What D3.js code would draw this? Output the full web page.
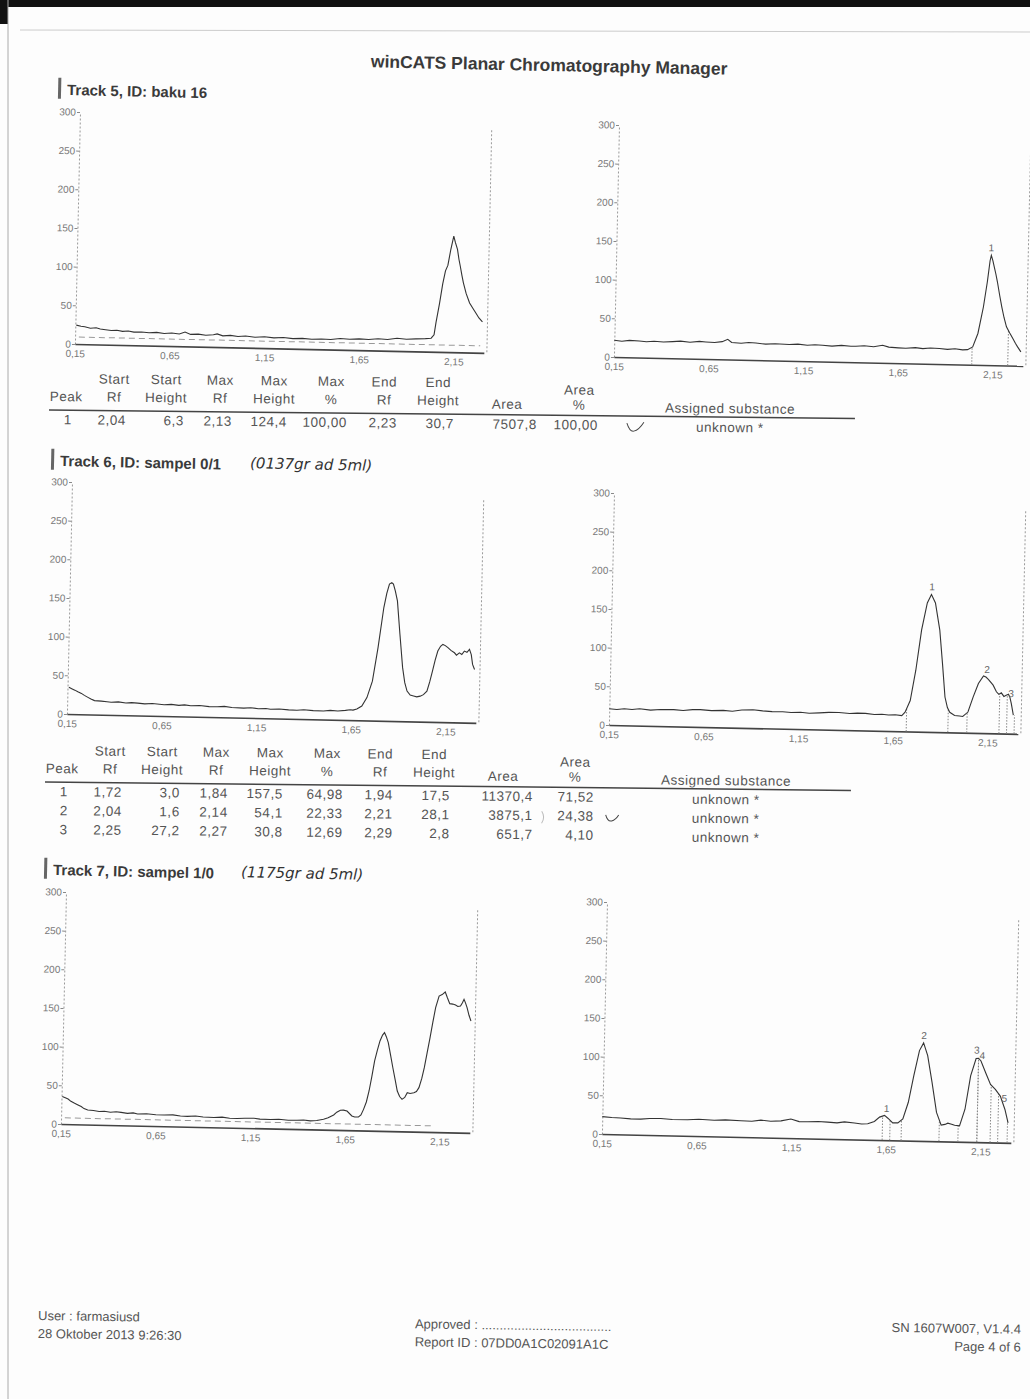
<!DOCTYPE html>
<html>
<head>
<meta charset="utf-8">
<script src="https://cdn.jsdelivr.net/npm/d3@7"></script>
<style>
  body { margin: 0; background: #fff; }
  svg { display: block; font-family: 'Liberation Sans', Arial, sans-serif; }
</style>
</head>
<body>
<svg width="1030" height="1399"></svg>
<script>
// ---- data: [Rf, AU] ----
const track5Raw = [[0.155,24.4],[0.18,23],[0.2,22.5],[0.23,20.8],[0.26,21.5],[0.282,20],[0.31,19.2],[0.34,18.5],[0.37,18.9],[0.4,17.6],[0.43,18.2],[0.46,17],[0.5,17.4],[0.54,16.6],[0.58,17.2],[0.62,16],[0.66,16.8],[0.7,15.9],[0.73,18.5],[0.76,15.6],[0.8,16.2],[0.84,15],[0.88,15.8],[0.9,17],[0.93,14.6],[0.97,15.4],[1.01,14.2],[1.05,15],[1.1,13.8],[1.15,14.6],[1.2,13.5],[1.25,14.2],[1.3,13],[1.35,13.6],[1.4,12.8],[1.45,13.4],[1.5,13],[1.55,14.5],[1.6,13.8],[1.65,14.6],[1.7,14],[1.75,15.2],[1.8,14.5],[1.85,16.5],[1.9,15.5],[1.95,16.2],[2.0,16.8],[2.03,17.5],[2.045,22],[2.054,38],[2.07,62],[2.085,88],[2.098,105],[2.11,112],[2.124,133],[2.138,150],[2.147,142],[2.159,133],[2.168,120],[2.176,111],[2.185,100],[2.194,90],[2.21,76],[2.229,64],[2.245,58],[2.264,51],[2.28,45],[2.299,40]];
const track5Int = [[0.15,21.6],[0.19,20.5],[0.23,21.8],[0.282,21.4],[0.32,20.6],[0.36,21.5],[0.41,20.8],[0.458,21.5],[0.5,22.3],[0.55,21.2],[0.6,22.5],[0.634,22],[0.68,21.5],[0.72,22.8],[0.749,26],[0.77,22],[0.82,21.3],[0.86,22.4],[0.898,22],[0.95,20.8],[1.0,21.6],[1.074,21],[1.12,21.8],[1.17,20.5],[1.21,21.5],[1.25,21],[1.3,20.2],[1.35,21.4],[1.4,20.5],[1.426,20.7],[1.47,21.5],[1.52,20.6],[1.567,22.7],[1.6,20.5],[1.65,19.8],[1.69,19.4],[1.74,20.6],[1.78,19.5],[1.82,20.5],[1.867,20],[1.91,19.2],[1.95,20.3],[1.99,19],[2.016,19.4],[2.043,23],[2.069,40.6],[2.095,75],[2.113,107.7],[2.125,135],[2.131,142],[2.14,135],[2.148,127],[2.157,118],[2.166,108],[2.18,90],[2.192,75.7],[2.205,62],[2.219,50],[2.237,42],[2.254,35],[2.268,29],[2.28,24.4],[2.298,18]];
const track6Raw = [[0.157,34.5],[0.175,32.5],[0.189,31],[0.205,29],[0.224,27],[0.24,24.5],[0.259,22],[0.275,20],[0.294,18],[0.33,17.5],[0.36,16.8],[0.382,16.3],[0.42,17],[0.46,15.8],[0.49,16.5],[0.522,16],[0.56,15.2],[0.6,15.9],[0.662,14.7],[0.7,15.3],[0.74,14.2],[0.77,15],[0.803,14],[0.85,14.6],[0.9,13.5],[0.943,13.5],[0.98,14.2],[1.02,13],[1.083,12.5],[1.12,13.2],[1.16,12.2],[1.2,12.6],[1.224,11.9],[1.27,12.4],[1.32,11.5],[1.364,11.3],[1.4,12.1],[1.45,11.2],[1.504,11],[1.54,12],[1.58,11.4],[1.62,12.5],[1.645,13.5],[1.66,13],[1.68,14.6],[1.706,18.6],[1.732,29.6],[1.759,51],[1.785,94.5],[1.811,146.5],[1.825,165],[1.838,177],[1.85,179],[1.859,177],[1.87,168],[1.882,155.4],[1.899,112.4],[1.917,69.3],[1.93,50],[1.943,39.2],[1.96,34],[1.978,33],[1.995,32],[2.013,33],[2.03,35],[2.048,39.7],[2.062,52],[2.075,65.6],[2.088,80],[2.101,91.8],[2.115,98],[2.127,100.5],[2.14,99],[2.154,96.4],[2.17,93],[2.189,90],[2.2,87],[2.215,90],[2.228,88],[2.241,92.5],[2.255,91],[2.268,94.8],[2.278,88],[2.286,75.5],[2.297,69]];
const track6Int = [[0.15,20.9],[0.19,20.2],[0.229,21.3],[0.27,20.6],[0.31,21.8],[0.368,20.4],[0.42,21.5],[0.49,21.6],[0.54,20.8],[0.59,22.2],[0.63,22.4],[0.69,21.4],[0.752,22],[0.8,21.2],[0.85,23],[0.909,23.7],[0.96,22.5],[1.01,21.8],[1.066,22],[1.11,21.2],[1.16,21.8],[1.206,20.8],[1.26,21.6],[1.31,22.5],[1.363,22.6],[1.42,21.5],[1.46,22.3],[1.503,22.2],[1.55,21],[1.59,21.6],[1.625,20.7],[1.66,21.2],[1.695,20.3],[1.712,24.8],[1.738,40],[1.764,79.4],[1.79,131.7],[1.817,166.7],[1.838,177.7],[1.86,167],[1.886,132],[1.904,89],[1.921,45.6],[1.935,32],[1.948,26],[1.974,22],[2.0,21.5],[2.017,21],[2.044,26.8],[2.07,46.5],[2.096,64],[2.122,73.8],[2.135,72.5],[2.148,69.6],[2.174,62.3],[2.192,53.8],[2.205,50.5],[2.218,52.6],[2.232,48],[2.244,49.7],[2.256,51],[2.264,47],[2.272,39],[2.284,24]];
const track7Raw = [[0.154,35.4],[0.17,34],[0.185,32.5],[0.2,29.5],[0.22,27],[0.238,25],[0.255,23],[0.27,20.5],[0.29,18.8],[0.32,18.2],[0.35,17.2],[0.378,17.6],[0.41,16.5],[0.44,17.4],[0.466,16.7],[0.5,15.6],[0.53,16.3],[0.554,15],[0.6,15.6],[0.65,14.6],[0.694,14.4],[0.74,14.9],[0.78,13.6],[0.817,13.3],[0.86,14],[0.9,12.9],[0.957,12.7],[1.0,13.3],[1.04,12.2],[1.08,12],[1.12,12.6],[1.168,12.9],[1.2,11.8],[1.255,11.6],[1.3,12.3],[1.35,11.2],[1.396,11.4],[1.43,11.9],[1.466,11],[1.5,11.6],[1.536,13.4],[1.56,15.5],[1.589,19.3],[1.605,23],[1.624,25.5],[1.64,25.8],[1.659,24.8],[1.685,18.5],[1.7,17.2],[1.72,17.4],[1.733,20],[1.746,27.4],[1.76,37],[1.773,51.3],[1.786,70],[1.799,90.3],[1.812,104],[1.825,116.3],[1.838,124],[1.848,127.2],[1.858,122],[1.869,114.4],[1.882,99],[1.896,82],[1.91,66],[1.922,52],[1.935,45],[1.948,41.4],[1.962,44],[1.975,50.1],[1.99,49.2],[2.01,50.3],[2.023,52],[2.036,57],[2.05,69],[2.062,83],[2.075,102],[2.089,122],[2.102,142],[2.115,161],[2.132,176],[2.148,178],[2.164,181.4],[2.176,174],[2.189,166.5],[2.205,166],[2.22,164.9],[2.232,163],[2.246,163.7],[2.256,168],[2.264,172.5],[2.272,168],[2.281,161.8],[2.292,152],[2.303,144.6]];
const track7Int = [[0.15,22.4],[0.2,21.5],[0.247,21.1],[0.3,20.3],[0.353,20.3],[0.4,21.3],[0.459,21.6],[0.52,20.6],[0.6,20.8],[0.66,21.8],[0.741,20.9],[0.8,21.7],[0.882,21],[0.94,20.6],[0.988,22.4],[1.04,21.2],[1.094,21.9],[1.146,24.7],[1.19,21.5],[1.235,21.6],[1.29,22.2],[1.34,21.6],[1.39,20.9],[1.429,22.4],[1.482,21.3],[1.52,20.2],[1.552,20.7],[1.587,23.9],[1.614,29.6],[1.64,31.9],[1.658,28.4],[1.684,22.5],[1.711,22.7],[1.737,27.9],[1.764,49.6],[1.79,84.2],[1.817,116.7],[1.838,126.8],[1.861,110.4],[1.887,76],[1.914,37.3],[1.94,21],[1.96,22],[1.975,23.7],[1.995,22.5],[2.011,21.2],[2.037,20.5],[2.064,42.2],[2.09,85.5],[2.117,108],[2.13,108.5],[2.143,105],[2.169,90],[2.196,75],[2.222,68.7],[2.249,60.2],[2.275,43],[2.293,25.9]];

// ---- peak tables ----
const t5StartRf = [2.04], t5StartH = [6.3], t5MaxRf = [2.13], t5MaxH = [124.4], t5MaxPct = [100.00];
const t5EndRf = [2.23], t5EndH = [30.7], t5Area = [7507.8], t5AreaPct = [100.00];
const t6StartRf = [1.72, 2.04, 2.25], t6StartH = [3.0, 1.6, 27.2], t6MaxRf = [1.84, 2.14, 2.27];
const t6MaxH = [157.5, 54.1, 30.8], t6MaxPct = [64.98, 22.33, 12.69], t6EndRf = [1.94, 2.21, 2.29];
const t6EndH = [17.5, 28.1, 2.8], t6Area = [11370.4, 3875.1, 651.7], t6AreaPct = [71.52, 24.38, 4.10];
const t7StartRf = [1.63, 1.73, 2.03, 2.13, 2.24], t7MaxRf = [1.65, 1.84, 2.12, 2.15, 2.27], t7EndRf = [1.67, 1.93, 2.13, 2.20, 2.29];

const RF_TICKS = [0.15, 0.65, 1.15, 1.65, 2.15];
const AU_TICKS = [0, 50, 100, 150, 200, 250, 300];
const HEAD1 = ['', 'Start', 'Start', 'Max', 'Max', 'Max', 'End', 'End', '', 'Area'];
const HEAD2 = ['Peak', 'Rf', 'Height', 'Rf', 'Height', '%', 'Rf', 'Height', 'Area', '%'];

const svg = d3.select('svg');
const W = 409, H = 232, ANGLE = 1.25;
const locale = d3.formatLocale({ decimal: ',', thousands: '', grouping: [3], currency: ['', ''] });
const f1 = locale.format('.1f'), f2 = locale.format('.2f');

// scan edges
svg.append('rect').attr('width', 1030).attr('height', 1399).attr('fill', '#fdfdfd');
svg.append('rect').attr('width', 1030).attr('height', 7).attr('fill', '#111');
svg.append('rect').attr('width', 8).attr('height', 24).attr('fill', '#111');
svg.append('line').attr('x1', 8).attr('x2', 8).attr('y1', 0).attr('y2', 1399).attr('stroke', '#aaa');
svg.append('line').attr('x1', 20).attr('x2', 1030).attr('y1', 30).attr('y2', 32).attr('stroke', '#ccc');

function valueAt(data, rf) {
  const i = d3.bisector(d => d[0]).left(data, rf);
  if (i <= 0) return data[0][1];
  if (i >= data.length) return data[data.length - 1][1];
  const a = data[i - 1], b = data[i];
  return a[1] + (b[1] - a[1]) * (rf - a[0]) / (b[0] - a[0]);
}

function drawChart(o) {
  const g = svg.append('g').attr('transform', `translate(${o.x},${o.y}) rotate(${ANGLE})`);
  const x = d3.scaleLinear().domain([0.15, 2.31]).range([0, W]);
  const y = d3.scaleLinear().domain([0, 300]).range([H, 0]);

  const ya = g.append('g')
    .call(d3.axisLeft(y).tickValues(AU_TICKS).tickSize(3).tickSizeOuter(0).tickPadding(1));
  ya.select('.domain').attr('stroke', '#999').attr('stroke-dasharray', '2,2');
  ya.selectAll('.tick line').attr('stroke', '#888');
  ya.selectAll('text').attr('fill', '#777').style('font-size', '10px');

  const xa = g.append('g').attr('transform', `translate(0,${H})`)
    .call(d3.axisBottom(x).tickValues(RF_TICKS).tickSize(0).tickSizeOuter(0).tickPadding(6).tickFormat(f2));
  xa.select('.domain').attr('stroke', '#444').attr('stroke-width', 1.6);
  xa.selectAll('text').attr('fill', '#777').style('font-size', '10px');

  // right border
  g.append('line').attr('x1', W + 3).attr('x2', W + 3).attr('y1', y(288)).attr('y2', H)
    .attr('stroke', '#999').attr('stroke-dasharray', '2,2');

  if (o.base != null) {
    g.append('line').attr('x1', x(0.17)).attr('x2', x(o.baseEnd)).attr('y1', y(o.base)).attr('y2', y(o.base))
      .attr('stroke', '#999').attr('stroke-dasharray', '6,4');
  }

  if (o.marks) {
    g.selectAll('.mark').data(o.marks).enter().append('line')
      .attr('x1', d => x(d)).attr('x2', d => x(d))
      .attr('y1', H).attr('y2', d => y(valueAt(o.data, d)))
      .attr('stroke', '#888').attr('stroke-dasharray', '1.5,1.5');
  }

  g.append('path').datum(o.data)
    .attr('d', d3.line().x(d => x(d[0])).y(d => y(d[1])))
    .attr('fill', 'none').attr('stroke', '#333').attr('stroke-width', 1.1);

  if (o.peaks) {
    g.selectAll('.plabel').data(o.peaks).enter().append('text')
      .attr('x', d => x(d)).attr('y', (d, i) => y(valueAt(o.data, d)) - 5)
      .attr('text-anchor', 'middle').attr('fill', '#666').style('font-size', '10px')
      .text((d, i) => i + 1);
  }
}

function drawTitle(x, y, label, note) {
  const g = svg.append('g').attr('transform', `translate(${x},${y}) rotate(${ANGLE})`);
  g.append('rect').attr('x', -9).attr('y', -17).attr('width', 3).attr('height', 21).attr('fill', '#666');
  g.append('text').attr('fill', '#3a3a3a').style('font-size', '15px').style('font-weight', 'bold').text(label);
  if (note) {
    g.append('text').attr('x', note.dx).attr('y', -2).attr('fill', '#333')
      .style('font-family', "'DejaVu Sans'").style('font-style', 'italic').style('font-weight', 200)
      .style('font-size', '15px').text(note.text);
  }
}

function drawTable(x, y, rows) {
  const g = svg.append('g').attr('transform', `translate(${x},${y}) rotate(0.6)`)
    .style('font-size', '13.5px').style('letter-spacing', '0.5px').attr('fill', '#555');
  const headX = [17, 65, 117, 171, 225, 282, 335, 389, 458, 530];
  const valX = [19, 77, 135, 183, 238, 298, 348, 405, 488, 549];
  g.selectAll('.h1').data(HEAD1).enter().append('text')
    .attr('x', (d, i) => headX[i]).attr('y', (d, i) => i === 9 ? -21 : -27)
    .attr('text-anchor', 'middle').text(d => d);
  g.selectAll('.h2').data(HEAD2).enter().append('text')
    .attr('x', (d, i) => headX[i]).attr('y', (d, i) => i >= 8 ? -6 : -9)
    .attr('text-anchor', 'middle').text(d => d);
  g.append('text').attr('x', 681).attr('y', -4).attr('text-anchor', 'middle').text('Assigned substance');
  g.append('line').attr('x1', 0).attr('x2', 806).attr('y1', 0).attr('y2', 0)
    .attr('stroke', '#444').attr('stroke-width', 1.5);

  rows.forEach((r, ri) => {
    const ry = 14 + ri * 19;
    r.forEach((v, ci) => {
      g.append('text').attr('x', valX[ci]).attr('y', ry)
        .attr('text-anchor', ci === 0 ? 'middle' : 'end').text(v);
    });
    g.append('text').attr('x', 681).attr('y', ry + 1).attr('text-anchor', 'middle').text('unknown *');
  });
  return g;
}

function tableRows(sRf, sH, mRf, mH, mP, eRf, eH, ar, aP) {
  return sRf.map((d, i) => [i + 1, f2(sRf[i]), f1(sH[i]), f2(mRf[i]), f1(mH[i]), f2(mP[i]),
    f2(eRf[i]), f1(eH[i]), f1(ar[i]), f2(aP[i])]);
}

// title
svg.append('text').attr('transform', 'translate(549,71) rotate(1.2)')
  .attr('text-anchor', 'middle').attr('fill', '#3a3a3a')
  .style('font-size', '17.5px').style('font-weight', 'bold')
  .text('winCATS Planar Chromatography Manager');

// Track 5
drawTitle(67, 95, 'Track 5, ID: baku 16');
drawChart({ x: 80, y: 112, data: track5Raw, base: 9, baseEnd: 2.29 });
drawChart({ x: 619, y: 125, data: track5Int, marks: t5StartRf.concat(t5EndRf), peaks: t5MaxRf });
const tb5 = drawTable(49, 410, tableRows(t5StartRf, t5StartH, t5MaxRf, t5MaxH, t5MaxPct, t5EndRf, t5EndH, t5Area, t5AreaPct));
tb5.append('path').attr('d', 'M578,7 q3,9 7,8 q5,-1 10,-9').attr('fill', 'none').attr('stroke', '#444').attr('stroke-width', 1);

// Track 6
drawTitle(60, 466, 'Track 6, ID: sampel 0/1', { dx: 190, text: '(0137gr ad 5ml)' });
drawChart({ x: 72, y: 482, data: track6Raw });
drawChart({ x: 614, y: 493, data: track6Int, marks: t6StartRf.concat(t6EndRf), peaks: t6MaxRf });
const tb6 = drawTable(45, 782, tableRows(t6StartRf, t6StartH, t6MaxRf, t6MaxH, t6MaxPct, t6EndRf, t6EndH, t6Area, t6AreaPct));
tb6.append('path').attr('d', 'M561,27 q2,7 6,6 q4,-1 7,-6').attr('fill', 'none').attr('stroke', '#444').attr('stroke-width', 1);
tb6.append('path').attr('d', 'M497,24 q4,6 0,12').attr('fill', 'none').attr('stroke', '#bbb').attr('stroke-width', 1);

// Track 7
drawTitle(53, 875, 'Track 7, ID: sampel 1/0', { dx: 188, text: '(1175gr ad 5ml)' });
drawChart({ x: 66, y: 892, data: track7Raw, base: 8, baseEnd: 2.12 });
drawChart({ x: 607, y: 902, data: track7Int, marks: t7StartRf.concat(t7EndRf), peaks: t7MaxRf });

// footer
const foot = svg.append('g').attr('transform', 'translate(38,1320) rotate(0.8)')
  .attr('fill', '#555').style('font-size', '13px');
foot.append('text').text('User : farmasiusd');
foot.append('text').attr('y', 18).text('28 Oktober 2013 9:26:30');
foot.append('text').attr('x', 377).attr('y', 3).text('Approved : ....................................');
foot.append('text').attr('x', 377).attr('y', 21).text('Report ID : 07DD0A1C02091A1C');
foot.append('text').attr('x', 983).attr('y', 0).attr('text-anchor', 'end').text('SN 1607W007, V1.4.4');
foot.append('text').attr('x', 983).attr('y', 18).attr('text-anchor', 'end').text('Page 4 of 6');
</script>
</body>
</html>
